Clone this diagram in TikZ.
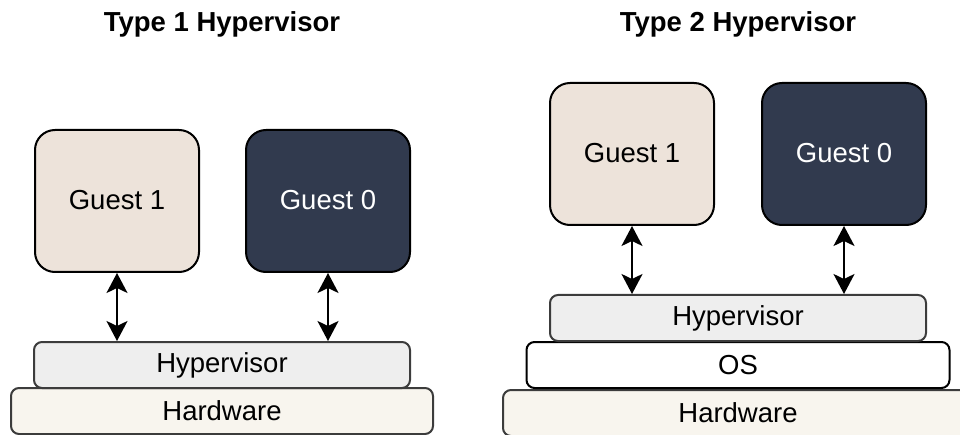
\documentclass[tikz,border=0pt]{standalone}
\usepackage{fontspec}
\setmainfont{Liberation Sans}
\usetikzlibrary{arrows.meta}

\definecolor{guestlight}{HTML}{EDE3DA}
\definecolor{guestdark}{HTML}{313A4E}
\definecolor{hvfill}{HTML}{EEEEEE}
\definecolor{hwfill}{HTML}{F8F5EE}
\definecolor{edgegrey}{HTML}{3C3C3C}

\tikzset{
  box/.style={draw, line width=2pt, inner sep=0pt, font=\fontsize{27.5}{32}\selectfont},
  guestA/.style={box, fill=guestlight, rounded corners=20pt, minimum width=164pt, minimum height=142pt},
  guestB/.style={box, fill=guestdark, text=white, rounded corners=20pt, minimum width=164pt, minimum height=142pt},
  layer/.style={box, rounded corners=8pt, minimum height=46pt},
  hvbar/.style={layer, draw=edgegrey, fill=hvfill},
  hwbar/.style={layer, draw=edgegrey, fill=hwfill},
  osbar/.style={layer, draw=black, fill=white},
  title/.style={font=\fontsize{27.5}{32}\selectfont\bfseries, anchor=base},
  tip/.tip={Stealth[length=20pt, width=21pt, inset=5pt]},
  link/.style={line width=2pt, tip-tip},
}

\begin{document}
\begin{tikzpicture}[x=1pt, y=-1pt]
  \useasboundingbox (0,0) rectangle (960,435);

  % Type 1: guests run directly on the hypervisor
  \node[title] (t1) at (222,32) {Type 1 Hypervisor};
  \node[hwbar, minimum width=422pt] (hw1) at (222,411) {Hardware};
  \node[hvbar, minimum width=376pt] (hv1) at (222,365) {Hypervisor};
  \node[guestA] (g1a) at (117,201) {\raisebox{3pt}{Guest 1}};
  \node[guestB] (g0a) at (328,201) {\raisebox{3pt}{Guest 0}};
  \draw[link] (g1a.south) -- (g1a.south |- hv1.north);
  \draw[link] (g0a.south) -- (g0a.south |- hv1.north);

  % Type 2: the hypervisor sits on a host OS
  \node[title] (t2) at (738,32) {Type 2 Hypervisor};
  \node[hwbar, minimum width=470pt] (hw2) at (738,413) {Hardware};
  \node[osbar, minimum width=423pt] (os2) at (738,365) {OS};
  \node[hvbar, minimum width=376pt] (hv2) at (738,318) {Hypervisor};
  \node[guestA] (g1b) at (632,154) {\raisebox{3pt}{Guest 1}};
  \node[guestB] (g0b) at (844,154) {\raisebox{3pt}{Guest 0}};
  \draw[link] (g1b.south) -- (g1b.south |- hv2.north);
  \draw[link] (g0b.south) -- (g0b.south |- hv2.north);
\end{tikzpicture}
\end{document}
